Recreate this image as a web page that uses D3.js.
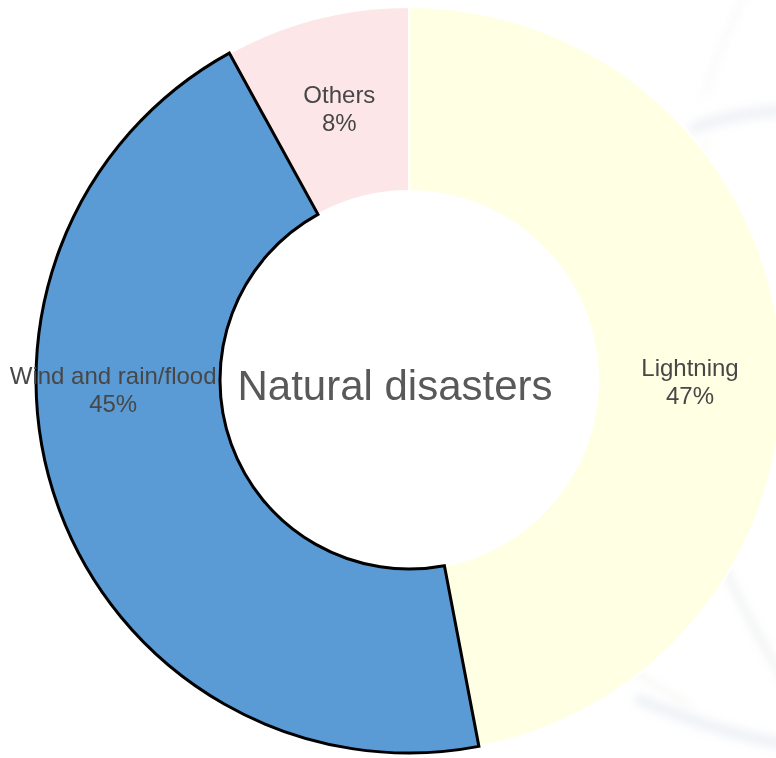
<!DOCTYPE html>
<html>
<head>
<meta charset="utf-8">
<script src="https://cdn.jsdelivr.net/npm/d3@7/dist/d3.min.js"></script>
<style>
  html, body { margin: 0; padding: 0; background: #fff; }
  svg { display: block; }
</style>
</head>
<body>
<svg id="chart" width="776" height="758"></svg>
<script>
// Causes of natural-disaster incidents, share of total
const categories = ["Lightning", "Wind and rain/flood", "Others"];
const shares = [47, 45, 8];
const shareLabels = ["47%", "45%", "8%"];
const sliceColors = ["#FFFFE1", "#5B9BD5", "#FDE4E5"];
const centerTitle = "Natural disasters";

// label placement: [angle in degrees clockwise from 12 o'clock, distance from centre]
const labelPlacement = [[90.4, 281], [268.1, 296], [345.6, 280]];

const width = 776, height = 758;
const cx = 409, cy = 380;
const outerR = 373, innerR = 189;

const svg = d3.select("#chart");

// faint decorative backdrop on the right-hand side
const defs = svg.append("defs");
defs.append("filter").attr("id", "soft")
  .attr("x", "-20%").attr("y", "-20%").attr("width", "140%").attr("height", "140%")
  .append("feGaussianBlur").attr("stdDeviation", 4);
const backdrop = svg.append("g").attr("filter", "url(#soft)").attr("fill", "none");
const swooshes = [
  {d: "M695,128 C720,118 750,112 790,110", c: "#b9c6d8", w: 12, o: 0.22},
  {d: "M705,95 C715,60 728,30 745,-5", c: "#cdd1d6", w: 5, o: 0.15},
  {d: "M705,140 C705,260 700,380 715,470", c: "#d6d9c8", w: 4, o: 0.18},
  {d: "M720,560 C745,610 765,650 790,690", c: "#b7bcc4", w: 6, o: 0.22},
  {d: "M640,700 C690,720 730,735 790,745", c: "#b4c3d6", w: 12, o: 0.22},
  {d: "M590,650 C625,665 655,685 690,705", c: "#cdd0c4", w: 5, o: 0.18}
];
backdrop.selectAll("path").data(swooshes).join("path")
  .attr("d", d => d.d)
  .attr("stroke", d => d.c)
  .attr("stroke-width", d => d.w)
  .attr("stroke-linecap", "round")
  .attr("opacity", d => d.o);

const g = svg.append("g").attr("transform", `translate(${cx},${cy})`);

const pie = d3.pie().value(d => d.value).sort(null);
const arc = d3.arc().innerRadius(innerR).outerRadius(outerR);

const data = categories.map((c, i) => ({
  name: c, value: shares[i], label: shareLabels[i],
  color: sliceColors[i], place: labelPlacement[i]
}));
const arcs = pie(data);

// unselected slices first, highlighted slice (with dark outline) on top
const highlighted = "Wind and rain/flood";
const order = arcs.slice().sort((a, b) => (a.data.name === highlighted) - (b.data.name === highlighted));
g.selectAll("path.slice").data(order).join("path")
  .attr("class", "slice")
  .attr("d", arc)
  .attr("fill", d => d.data.color)
  .attr("fill-opacity", d => d.data.name === highlighted ? 1 : 0.92)
  .attr("stroke", d => d.data.name === highlighted ? "#000" : "#fff")
  .attr("stroke-width", d => d.data.name === highlighted ? 3 : 2)
  .attr("stroke-linejoin", "miter");

// slice labels: name and share on two lines
const labels = g.selectAll("g.lbl").data(arcs).join("g")
  .attr("class", "lbl")
  .attr("transform", d => {
    const a = d.data.place[0] * Math.PI / 180, r = d.data.place[1];
    return `translate(${r * Math.sin(a)},${-r * Math.cos(a)})`;
  })
  .attr("font-family", "Liberation Sans, Arial, sans-serif")
  .attr("font-size", 24)
  .attr("fill", "#474747")
  .attr("text-anchor", "middle");
labels.append("text").attr("y", -6).text(d => d.data.name);
labels.append("text").attr("y", 22).text(d => d.data.label);

// centre title
g.append("text")
  .attr("x", -14).attr("y", 20)
  .attr("text-anchor", "middle")
  .attr("font-family", "Liberation Sans, Arial, sans-serif")
  .attr("font-size", 42)
  .attr("fill", "#595959")
  .text(centerTitle);
</script>
</body>
</html>
